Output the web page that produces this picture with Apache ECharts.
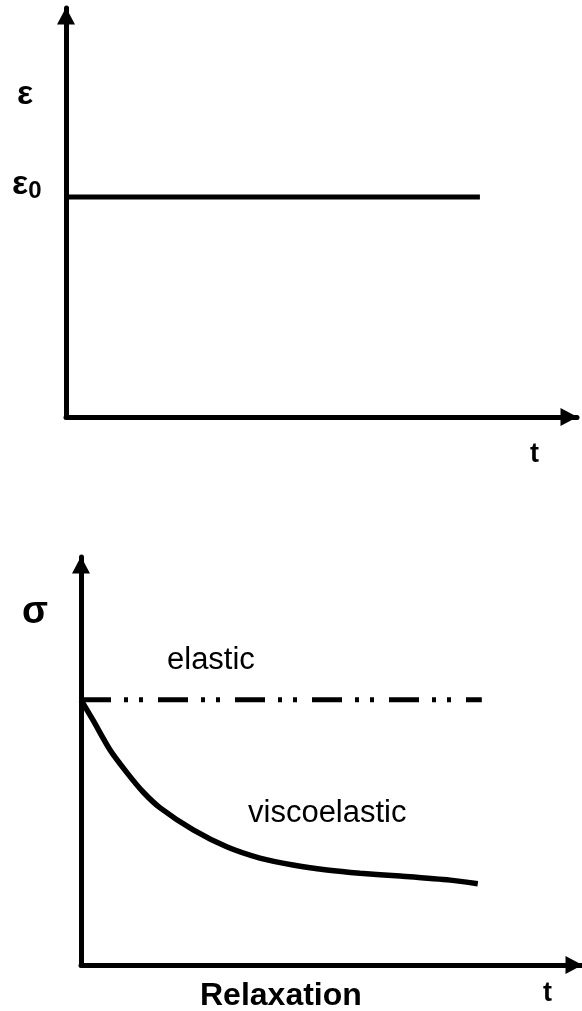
<!DOCTYPE html>
<html>
<head>
<meta charset="utf-8">
<script src="https://cdn.jsdelivr.net/npm/echarts@6/dist/echarts.min.js"></script>
<style>
  html, body { margin: 0; padding: 0; background: #fff; }
  #chart { width: 582px; height: 1011px; }
</style>
</head>
<body>
<div id="chart"></div>
<script>
// data
var strainT = [0, 8.1];
var strainVal = [5.38, 5.38];
var elasticT = [0, 8.0];
var elasticVal = [6.5, 6.5];
var viscoT = [0, 0.24, 0.58, 0.92, 1.24, 1.58, 2.24, 2.92, 3.57, 4.23, 4.91, 5.57, 6.37, 7.37, 7.92];
var viscoVal = [6.5, 6.0, 5.27, 4.71, 4.24, 3.85, 3.31, 2.89, 2.62, 2.45, 2.33, 2.25, 2.18, 2.08, 1.99];

function pairs(xs, ys) {
  return xs.map(function (x, i) { return [x, ys[i]]; });
}

(function () {
  var myChart = echarts.init(document.getElementById('chart'));

  // axis with arrow, no ticks, no labels
  function axis(gridIndex) {
    return {
      type: 'value',
      gridIndex: gridIndex,
      min: 0,
      max: 10,
      axisLine: {
        show: true,
        onZero: false,
        symbol: ['none', 'triangle'],
        symbolSize: [18, 17],
        symbolOffset: [0, -8],
        lineStyle: { color: '#000', width: 5 }
      },
      axisTick: { show: false },
      axisLabel: { show: false },
      splitLine: { show: false }
    };
  }

  var font = 'Liberation Sans, Arial, sans-serif';
  var bold = 'bold ';

  var option = {
    backgroundColor: '#fff',
    animation: false,
    grid: [
      { left: 66, right: 5, top: 8, bottom: 594 },
      { left: 81, right: 0, top: 557, bottom: 46 }
    ],
    xAxis: [axis(0), axis(1)],
    yAxis: [axis(0), axis(1)],
    series: [
      {
        name: 'strain',
        type: 'line',
        xAxisIndex: 0,
        yAxisIndex: 0,
        showSymbol: false,
        data: pairs(strainT, strainVal),
        lineStyle: { color: '#000', width: 5 }
      },
      {
        name: 'elastic',
        type: 'line',
        xAxisIndex: 1,
        yAxisIndex: 1,
        showSymbol: false,
        data: pairs(elasticT, elasticVal),
        lineStyle: { color: '#000', width: 5, type: [30, 13, 4, 11, 4, 15] }
      },
      {
        name: 'viscoelastic',
        type: 'line',
        xAxisIndex: 1,
        yAxisIndex: 1,
        showSymbol: false,
        smooth: 0.25,
        data: pairs(viscoT, viscoVal),
        lineStyle: { color: '#000', width: 5.5 }
      }
    ],
    graphic: [
      { type: 'text', left: 17, top: 78, style: { text: 'ε', font: bold + '34px ' + font, fill: '#000' } },
      {
        type: 'text', left: 12, top: 168,
        style: {
          text: '{a|ε}{b|0}',
          fill: '#000',
          rich: {
            a: { font: bold + '34px ' + font },
            b: { font: bold + '24px ' + font, padding: [12, 0, 0, 0] }
          }
        }
      },
      { type: 'text', left: 530, top: 441, style: { text: 't', font: bold + '27px ' + font, fill: '#000' } },
      { type: 'text', left: 22, top: 594, style: { text: 'σ', font: bold + '38px ' + font, fill: '#000' } },
      { type: 'text', left: 167, top: 645, style: { text: 'elastic', font: '31px ' + font, fill: '#000' } },
      { type: 'text', left: 248, top: 798, style: { text: 'viscoelastic', font: '31px ' + font, fill: '#000' } },
      { type: 'text', left: 200, top: 980, style: { text: 'Relaxation', font: bold + '32px ' + font, fill: '#000' } },
      { type: 'text', left: 543, top: 980, style: { text: 't', font: bold + '27px ' + font, fill: '#000' } }
    ]
  };

  myChart.setOption(option);

  window.addEventListener('resize', function () {
    myChart.resize();
  });
})();
</script>
</body>
</html>
